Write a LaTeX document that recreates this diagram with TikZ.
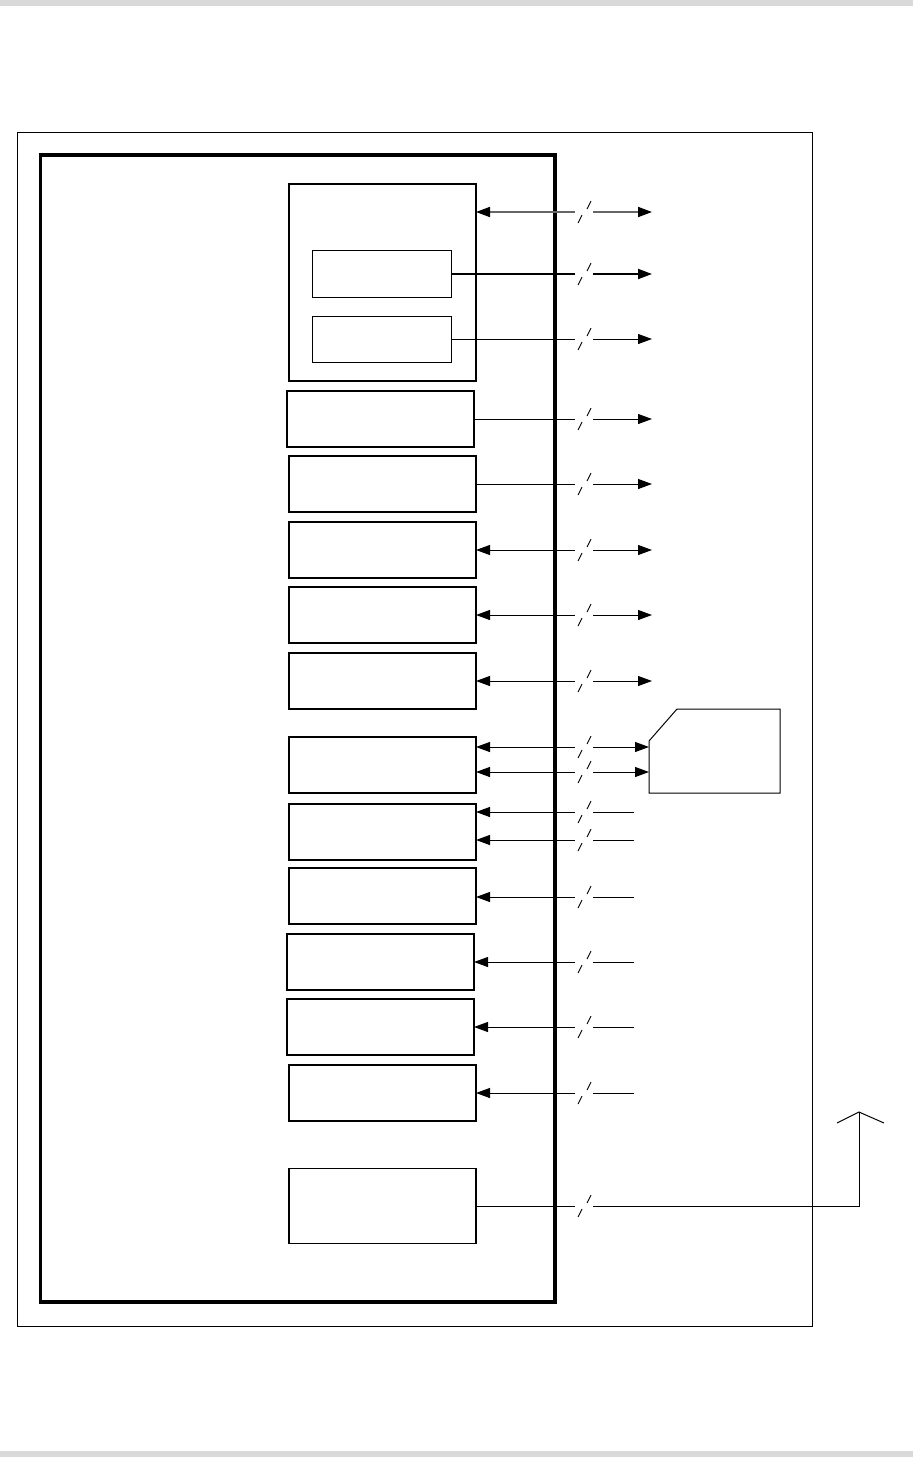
\documentclass[tikz,border=0pt]{standalone}
\usetikzlibrary{arrows.meta}
\begin{document}
\begin{tikzpicture}[x=1pt,y=-1pt,
  blk/.style={draw,line width=1.5pt,minimum width=187pt,minimum height=56pt,inner sep=0pt,outer sep=0pt},
  sub/.style={draw,line width=1pt,minimum width=139pt,minimum height=47pt,inner sep=0pt,outer sep=0pt},
  bus/.style={line width=1pt},
  tip/.style={-{Triangle[length=14pt,width=10pt,color=black]}},
  bitip/.style={{Triangle[length=14pt,width=10pt,color=black]}-{Triangle[length=14pt,width=10pt,color=black]}},
  intip/.style={{Triangle[length=14pt,width=10pt]}-},
  slash/.style={line width=0.9pt}]
\useasboundingbox (0,0) rectangle (913,1457);
\fill[gray!30] (0,0) rectangle (913,6);
\fill[gray!30] (0,1451) rectangle (913,1457);
% frames
\draw[line width=1pt] (17,132) rectangle (812,1326);
\draw[line width=3.5pt] (40.5,155) rectangle (555,1302);
% blocks
\node[blk,minimum height=197pt] (b1) at (382.5,282.5) {};
\node[sub] (i1) at (381.5,274) {};
\node[sub,minimum height=46pt] (i2) at (381.5,339) {};
\node[blk] (b2) at (380.5,419) {};
\node[blk] (b3) at (382.5,484) {};
\node[blk] (b4) at (382.5,550) {};
\node[blk] (b5) at (382.5,615) {};
\node[blk] (b6) at (382.5,681) {};
\node[blk] (b7) at (382.5,765) {};
\node[blk] (b8) at (382.5,832) {};
\node[blk] (b9) at (382.5,896) {};
\node[blk] (b10) at (380.5,962) {};
\node[blk] (b11) at (380.5,1027) {};
\node[blk] (b12) at (382.5,1093) {};
\node[blk,minimum height=75pt] (b13) at (382.5,1206) {};
% card
\draw[line width=1pt] (677,709) -- (780,709) -- (780,793) -- (649,793) -- (649,741) -- cycle;
% end coordinates
\coordinate (e1) at (652,212);
\coordinate (e2) at (652,274);
\coordinate (e3) at (652,339);
\coordinate (e4) at (652,419);
\coordinate (e5) at (652,484);
\coordinate (e6) at (652,550);
\coordinate (e7) at (652,615);
\coordinate (e8) at (652,681);
\coordinate (c1) at (649,747);
\coordinate (c2) at (649,772);
\coordinate (s1) at (634,812);
\coordinate (s2) at (634,840);
\coordinate (s3) at (634,897);
\coordinate (s4) at (634,962);
\coordinate (s5) at (634,1027);
\coordinate (s6) at (634,1093);
\coordinate (k2) at (859,1112);
% connectors
\draw[bus,bitip,line width=1.6pt,draw=black!60] (b1.east |- e1) -- (e1);
\draw[bus,tip,line width=2pt] (i1.east) -- (e2);
\draw[bus,tip] (i2.east) -- (e3);
\draw[bus,tip] (b2.east) -- (e4);
\draw[bus,tip] (b3.east) -- (e5);
\draw[bus,bitip] (b4.east) -- (e6);
\draw[bus,bitip] (b5.east) -- (e7);
\draw[bus,bitip] (b6.east) -- (e8);
\draw[bus,bitip] (b7.east |- c1) -- (c1);
\draw[bus,bitip] (b7.east |- c2) -- (c2);
\draw[bus,intip] (b8.east |- s1) -- (s1);
\draw[bus,intip] (b8.east |- s2) -- (s2);
\draw[bus,intip] (b9.east |- s3) -- (s3);
\draw[bus,intip] (b10.east |- s4) -- (s4);
\draw[bus,intip] (b11.east |- s5) -- (s5);
\draw[bus,intip] (b12.east |- s6) -- (s6);
\draw[bus,line join=miter] (b13.east) -| (k2);
\draw[line width=1pt,line join=miter] (837,1123) -- (k2) -- (884,1123);
% bus breaks
\foreach \y in {212,274,339,419,484,550,615,681,747,772,812,840,897,962,1027,1093,1206}{
  \fill[white] (575,\y-1.8) rectangle (593,\y+1.8);
  \draw[slash] (587,\y-3) -- (591,\y-11);
  \draw[slash] (578,\y+11) -- (582,\y+3);
}
\end{tikzpicture}
\end{document}
